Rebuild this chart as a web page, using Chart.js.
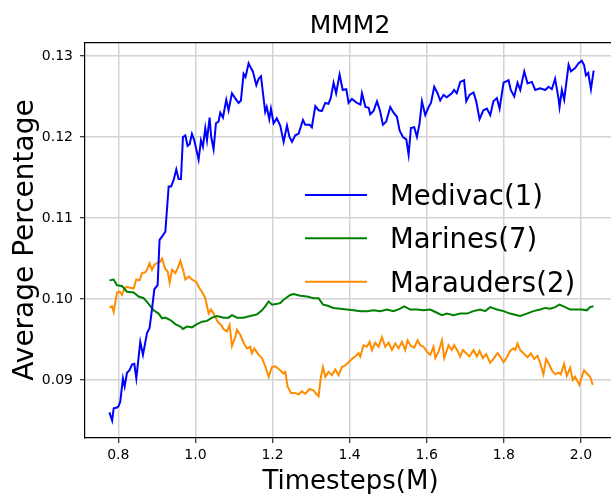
<!DOCTYPE html>
<html>
<head>
<meta charset="utf-8">
<script src="https://cdn.jsdelivr.net/npm/chart.js@4.4.1/dist/chart.umd.min.js"></script>
<style>
  body { margin: 0; background: #fff; }
  #myChart { display: block; }
</style>
</head>
<body>
<canvas id="myChart" width="611" height="494"></canvas>
<script>
// Values
const medivacX = [0.777, 0.784, 0.788, 0.797, 0.801, 0.805, 0.812, 0.8165, 0.8225, 0.829, 0.8355, 0.8415, 0.8467, 0.857, 0.864, 0.8744, 0.881, 0.887, 0.8934, 0.902, 0.907, 0.9133, 0.922, 0.9306, 0.937, 0.9435, 0.9504, 0.9564, 0.9625, 0.9677, 0.9738, 0.9798, 0.985, 0.991, 0.997, 1.0083, 1.0144, 1.0195, 1.0256, 1.030, 1.0368, 1.041, 1.0472, 1.0533, 1.060, 1.0645, 1.0715, 1.08, 1.086, 1.0948, 1.103, 1.112, 1.118, 1.125, 1.130, 1.138, 1.144, 1.149, 1.158, 1.164, 1.170, 1.181, 1.185, 1.1916, 1.196, 1.2028, 1.211, 1.22, 1.2288, 1.2375, 1.244, 1.2505, 1.259, 1.2676, 1.279, 1.285, 1.2962, 1.302, 1.311, 1.3196, 1.328, 1.3368, 1.345, 1.351, 1.3584, 1.365, 1.374, 1.382, 1.3913, 1.3973, 1.406, 1.419, 1.428, 1.432, 1.441, 1.4495, 1.4535, 1.462, 1.471, 1.479, 1.4864, 1.495, 1.5054, 1.514, 1.5227, 1.5296, 1.5383, 1.547, 1.553, 1.559, 1.5676, 1.5746, 1.5815, 1.5876, 1.5962, 1.605, 1.611, 1.6195, 1.628, 1.635, 1.6436, 1.652, 1.665, 1.671, 1.678, 1.687, 1.697, 1.7025, 1.711, 1.7215, 1.7284, 1.737, 1.747, 1.756, 1.7648, 1.773, 1.782, 1.789, 1.7993, 1.8123, 1.818, 1.827, 1.8356, 1.8426, 1.853, 1.8616, 1.8728, 1.8815, 1.8944, 1.9073, 1.916, 1.9245, 1.933, 1.942, 1.9445, 1.9505, 1.9566, 1.968, 1.974, 1.985, 1.994, 2.002, 2.008, 2.013, 2.019, 2.026, 2.033];
const medivacY = [0.0860, 0.0850, 0.0865, 0.0866, 0.0868, 0.0873, 0.0902, 0.0892, 0.0909, 0.0912, 0.0919, 0.0920, 0.0902, 0.0947, 0.0931, 0.0958, 0.0964, 0.0986, 0.1012, 0.1017, 0.1073, 0.1077, 0.1083, 0.1139, 0.1139, 0.1147, 0.1160, 0.1148, 0.1148, 0.1200, 0.1202, 0.1189, 0.1191, 0.1204, 0.1196, 0.1172, 0.1196, 0.1188, 0.1211, 0.1196, 0.1224, 0.1200, 0.1185, 0.1217, 0.1219, 0.1230, 0.1224, 0.1246, 0.1233, 0.1254, 0.1248, 0.1242, 0.1245, 0.1278, 0.1274, 0.1291, 0.1285, 0.1281, 0.1264, 0.1272, 0.1275, 0.1231, 0.1237, 0.1222, 0.1235, 0.1217, 0.1223, 0.1214, 0.1194, 0.1214, 0.1200, 0.1194, 0.1202, 0.1204, 0.1221, 0.1215, 0.1215, 0.1212, 0.1238, 0.1233, 0.1232, 0.1242, 0.1241, 0.1248, 0.1267, 0.1254, 0.1277, 0.1258, 0.1259, 0.1242, 0.1247, 0.1242, 0.1240, 0.1254, 0.1237, 0.1236, 0.1228, 0.1232, 0.1244, 0.1232, 0.1215, 0.1219, 0.1237, 0.1230, 0.1225, 0.1208, 0.1200, 0.1197, 0.1178, 0.1211, 0.1212, 0.1200, 0.1217, 0.1244, 0.1227, 0.1237, 0.1242, 0.1262, 0.1254, 0.1245, 0.1252, 0.1249, 0.1254, 0.1258, 0.1254, 0.1268, 0.1270, 0.1244, 0.1252, 0.1255, 0.1244, 0.1222, 0.1233, 0.1235, 0.1227, 0.1244, 0.1248, 0.1235, 0.1267, 0.1270, 0.1258, 0.1250, 0.1267, 0.1258, 0.1281, 0.1266, 0.1268, 0.1258, 0.1260, 0.1258, 0.1262, 0.1259, 0.1272, 0.1247, 0.1237, 0.1258, 0.1246, 0.1289, 0.1281, 0.1285, 0.1291, 0.1294, 0.1289, 0.1276, 0.1279, 0.1259, 0.1282];

const marinesX = [0.777, 0.788, 0.7966, 0.8096, 0.8225, 0.8398, 0.8527, 0.8657, 0.8786, 0.8916, 0.9046, 0.9133, 0.922, 0.935, 0.9478, 0.961, 0.9677, 0.978, 0.991, 1.004, 1.017, 1.030, 1.043, 1.056, 1.073, 1.086, 1.095, 1.108, 1.125, 1.142, 1.160, 1.1727, 1.181, 1.19, 1.199, 1.212, 1.22, 1.2288, 1.2461, 1.2548, 1.2720, 1.2893, 1.3066, 1.3195, 1.331, 1.3411, 1.3584, 1.3757, 1.393, 1.4103, 1.4276, 1.445, 1.4622, 1.4795, 1.4968, 1.514, 1.5313, 1.5417, 1.5572, 1.5745, 1.5918, 1.609, 1.6265, 1.6395, 1.652, 1.6695, 1.687, 1.704, 1.7214, 1.7387, 1.7516, 1.7646, 1.7819, 1.7992, 1.8164, 1.8337, 1.8424, 1.8596, 1.8769, 1.8942, 1.9072, 1.9201, 1.9331, 1.9443, 1.959, 1.972, 1.9892, 2.0022, 2.0152, 2.0238, 2.0325];
const marinesY = [0.1023, 0.1024, 0.1017, 0.1016, 0.1009, 0.1008, 0.1003, 0.1001, 0.0994, 0.0986, 0.0982, 0.0976, 0.0977, 0.0974, 0.0969, 0.0966, 0.0963, 0.0966, 0.0965, 0.0969, 0.0972, 0.0973, 0.0977, 0.0979, 0.0977, 0.0977, 0.0980, 0.0977, 0.0977, 0.0979, 0.0981, 0.0986, 0.0991, 0.0997, 0.0993, 0.0994, 0.0995, 0.0999, 0.1005, 0.1006, 0.1004, 0.1003, 0.1001, 0.1001, 0.0993, 0.0992, 0.0989, 0.0988, 0.0987, 0.0986, 0.0985, 0.0985, 0.0986, 0.0985, 0.0987, 0.0985, 0.0988, 0.0991, 0.0987, 0.0987, 0.0986, 0.0987, 0.0983, 0.0980, 0.0982, 0.0980, 0.0982, 0.0982, 0.0985, 0.0987, 0.0985, 0.0990, 0.0987, 0.0985, 0.0982, 0.0980, 0.0979, 0.0982, 0.0985, 0.0987, 0.0989, 0.0988, 0.0990, 0.0993, 0.0990, 0.0987, 0.0987, 0.0987, 0.0986, 0.0990, 0.0991];

const maraudersX = [0.777, 0.7837, 0.788, 0.7966, 0.8035, 0.8096, 0.8156, 0.8225, 0.831, 0.8398, 0.8467, 0.8553, 0.8614, 0.87, 0.8744, 0.881, 0.8873, 0.8934, 0.902, 0.9089, 0.9133, 0.922, 0.928, 0.9332, 0.9392, 0.948, 0.954, 0.961, 0.968, 0.974, 0.983, 0.991, 1.0024, 1.011, 1.017, 1.0256, 1.0343, 1.0403, 1.0472, 1.0576, 1.0662, 1.073, 1.0818, 1.0887, 1.0948, 1.1034, 1.1077, 1.1163, 1.125, 1.1337, 1.1423, 1.1466, 1.1527, 1.164, 1.1726, 1.1813, 1.19, 1.1986, 1.207, 1.22, 1.2288, 1.2331, 1.2391, 1.2478, 1.259, 1.2676, 1.2763, 1.285, 1.2962, 1.3066, 1.3135, 1.3195, 1.3256, 1.3308, 1.3368, 1.3455, 1.3541, 1.3627, 1.3714, 1.38, 1.3887, 1.3973, 1.406, 1.4146, 1.4233, 1.4276, 1.4362, 1.4449, 1.4518, 1.4579, 1.4665, 1.4752, 1.4838, 1.4925, 1.5011, 1.5098, 1.5184, 1.527, 1.5357, 1.5443, 1.5503, 1.559, 1.5676, 1.5763, 1.5832, 1.5918, 1.6005, 1.6091, 1.6178, 1.6222, 1.6308, 1.6395, 1.6455, 1.6566, 1.6652, 1.6713, 1.6799, 1.6868, 1.6938, 1.7024, 1.711, 1.7214, 1.73, 1.737, 1.7456, 1.7542, 1.7646, 1.7732, 1.7836, 1.7905, 1.7992, 1.8078, 1.8164, 1.8251, 1.8294, 1.8354, 1.8424, 1.851, 1.8614, 1.87, 1.8786, 1.8873, 1.8942, 1.9028, 1.9097, 1.9158, 1.9244, 1.9331, 1.9417, 1.9478, 1.9564, 1.9633, 1.972, 1.9789, 1.9849, 1.9961, 2.0022, 2.0083, 2.0152, 2.0238, 2.0307];
const maraudersY = [0.0990, 0.0991, 0.0984, 0.1008, 0.1009, 0.1005, 0.1013, 0.1015, 0.1014, 0.1013, 0.1024, 0.1023, 0.1032, 0.1033, 0.1036, 0.1044, 0.1036, 0.1042, 0.1045, 0.1046, 0.1050, 0.1037, 0.1034, 0.1020, 0.1036, 0.1032, 0.1038, 0.1047, 0.1036, 0.1024, 0.1028, 0.1024, 0.1021, 0.1013, 0.1009, 0.1001, 0.0982, 0.0987, 0.0982, 0.0972, 0.0968, 0.0963, 0.0960, 0.0968, 0.0942, 0.0953, 0.0962, 0.0956, 0.0946, 0.0939, 0.0941, 0.0933, 0.0939, 0.0931, 0.0927, 0.0917, 0.0904, 0.0916, 0.0917, 0.0912, 0.0908, 0.0910, 0.0892, 0.0884, 0.0884, 0.0882, 0.0886, 0.0883, 0.0889, 0.0887, 0.0883, 0.0880, 0.0904, 0.0916, 0.0904, 0.0910, 0.0906, 0.0913, 0.0906, 0.0916, 0.0918, 0.0922, 0.0926, 0.0929, 0.0933, 0.0929, 0.0943, 0.0941, 0.0947, 0.0937, 0.0946, 0.0941, 0.0953, 0.0941, 0.0946, 0.0937, 0.0945, 0.0939, 0.0947, 0.0937, 0.0949, 0.0942, 0.0940, 0.0949, 0.0943, 0.0941, 0.0935, 0.0931, 0.0941, 0.0927, 0.0935, 0.0949, 0.0927, 0.0943, 0.0937, 0.0943, 0.0936, 0.0929, 0.0937, 0.0933, 0.0929, 0.0937, 0.0929, 0.0936, 0.0927, 0.0932, 0.0921, 0.0926, 0.0933, 0.0929, 0.0922, 0.0928, 0.0936, 0.0939, 0.0937, 0.0945, 0.0937, 0.0933, 0.0928, 0.0933, 0.0926, 0.0930, 0.0921, 0.0907, 0.0926, 0.0921, 0.0912, 0.0907, 0.0909, 0.0907, 0.0920, 0.0905, 0.0915, 0.0900, 0.0904, 0.0894, 0.0904, 0.0912, 0.0908, 0.0904, 0.0894];

const seriesNames = ['Medivac(1)', 'Marines(7)', 'Marauders(2)'];
const seriesColors = ['#0000ff', '#008000', '#ff8c00'];
const xTicks = [0.8, 1.0, 1.2, 1.4, 1.6, 1.8, 2.0];
const yTicks = [0.09, 0.10, 0.11, 0.12, 0.13];

const FONT = 'DejaVu Sans';

function toPoints(xs, ys) {
    return xs.map((x, i) => ({ x: x, y: ys[i] }));
}

// Title, axis labels, top spine and the legend (no frame) drawn by hand
const decorPlugin = {
    id: 'decor',
    beforeDraw(chart) {
        const c = chart.ctx;
        c.save();
        c.fillStyle = '#fff';
        c.fillRect(0, 0, chart.width, chart.height);
        c.restore();
    },
    afterDraw(chart) {
        const c = chart.ctx;
        const a = chart.chartArea;
        c.save();
        c.fillStyle = '#000';

        // top spine
        c.strokeStyle = '#000';
        c.lineWidth = 1.2;
        c.beginPath();
        c.moveTo(a.left, a.top);
        c.lineTo(a.right, a.top);
        c.stroke();

        c.font = '25px "' + FONT + '"';
        c.textAlign = 'center';
        c.textBaseline = 'alphabetic';
        c.fillText('MMM2', 350, 33);

        c.font = '26px "' + FONT + '"';
        c.fillText('Timesteps(M)', 350.5, 489);

        c.save();
        c.translate(33, 240);
        c.rotate(-Math.PI / 2);
        c.font = '28px "' + FONT + '"';
        c.fillText('Average Percentage', 0, 0);
        c.restore();

        // legend
        const rows = [195, 238.3, 281.7];
        c.font = '27.5px "' + FONT + '"';
        c.textAlign = 'left';
        seriesNames.forEach((name, i) => {
            c.strokeStyle = seriesColors[i];
            c.lineWidth = 2;
            c.beginPath();
            c.moveTo(305, rows[i]);
            c.lineTo(367, rows[i]);
            c.stroke();
            c.fillStyle = '#000';
            c.fillText(name, 390, rows[i] + 10);
        });
        c.restore();
    }
};

const ctx = document.getElementById('myChart').getContext('2d');

const myChart = new Chart(ctx, {
    type: 'line',
    data: {
        datasets: [
            { label: seriesNames[0], data: toPoints(medivacX, medivacY), borderColor: seriesColors[0] },
            { label: seriesNames[1], data: toPoints(marinesX, marinesY), borderColor: seriesColors[1] },
            { label: seriesNames[2], data: toPoints(maraudersX, maraudersY), borderColor: seriesColors[2] }
        ]
    },
    options: {
        responsive: false,
        animation: false,
        devicePixelRatio: 1,
        layout: { padding: { top: 42.7, left: 0, right: 0, bottom: 0 } },
        elements: {
            point: { radius: 0 },
            line: { borderWidth: 2, tension: 0, fill: false }
        },
        scales: {
            x: {
                type: 'linear',
                min: 0.7136,
                max: 2.078,
                afterBuildTicks: scale => { scale.ticks = xTicks.map(v => ({ value: v })); },
                afterFit: scale => { scale.height = 56; },
                ticks: {
                    color: '#000',
                    padding: 4,
                    maxRotation: 0,
                    font: { family: FONT, size: 14 },
                    callback: v => Number(v).toFixed(1)
                },
                grid: { color: '#d3d3d3', lineWidth: 1.5, tickColor: '#000', tickLength: 5, tickWidth: 1 },
                border: { color: '#000', width: 1.2 }
            },
            y: {
                type: 'linear',
                min: 0.08284,
                max: 0.13164,
                afterBuildTicks: scale => { scale.ticks = yTicks.map(v => ({ value: v })); },
                afterFit: scale => { scale.width = 85; },
                ticks: {
                    color: '#000',
                    padding: 7,
                    font: { family: FONT, size: 14 },
                    callback: v => Number(v).toFixed(2)
                },
                grid: { color: '#d3d3d3', lineWidth: 1.5, tickColor: '#000', tickLength: 5, tickWidth: 1 },
                border: { color: '#000', width: 1.2 }
            }
        },
        plugins: {
            legend: { display: false },
            title: { display: false },
            tooltip: { enabled: false }
        }
    },
    plugins: [decorPlugin]
});
</script>
</body>
</html>
